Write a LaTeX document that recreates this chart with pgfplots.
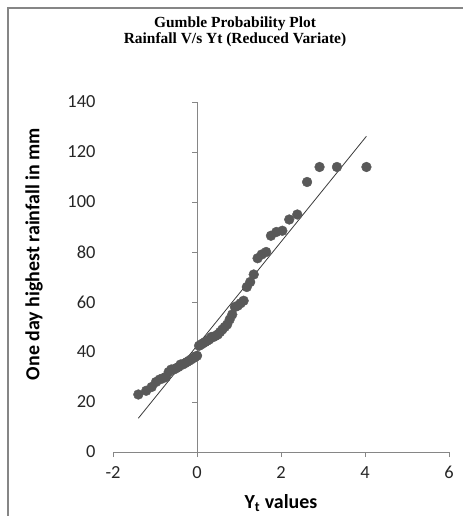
\documentclass[border=0pt]{standalone}
\usepackage{fontspec}
\setmainfont{Liberation Serif}
\newfontfamily\calibri{Carlito}
\usepackage{pgfplots}
\pgfplotsset{compat=1.18}
\definecolor{axisgray}{HTML}{868686}
\definecolor{dot}{HTML}{595959}
\definecolor{trend}{HTML}{3A3A3A}
\begin{document}
\begin{tikzpicture}
\path[use as bounding box] (0bp,0bp) rectangle (463bp,516bp);
\draw[axisgray, line width=1.2bp] (8bp,0bp) -- (8bp,508bp) -- (463bp,508bp);
\node[font=\fontsize{15.5}{16.5}\selectfont\bfseries, align=center] at (235bp,484bp)
  {Gumble Probability Plot\\Rainfall V/s Yt (Reduced Variate)};
\node[font=\calibri\fontsize{20}{22}\selectfont\bfseries] at (281bp,13bp) {Y\textsubscript{t} values};
\node[font=\calibri\fontsize{20}{22}\selectfont\bfseries, rotate=90] at (34bp,262bp) {One day highest rainfall in mm};
\begin{axis}[at={(113bp,64bp)}, anchor=south west, scale only axis,
  width=336bp, height=350bp,
  xmin=-2, xmax=6, ymin=0, ymax=140,
  xtick={-2,0,...,6}, ytick={0,20,...,140},
  axis x line*=bottom, axis y line*=left,
  y axis line style={draw=none}, ytick style={draw=none},
  x axis line style={axisgray, line width=0.8bp},
  xtick style={axisgray, line width=0.8bp},
  tick align=outside, major tick length=5bp,
  ticklabel style={font=\calibri\fontsize{18.5}{20}\selectfont, text=black!85},
  /pgf/number format/assume math mode=true,
  yticklabel style={xshift=-9bp}, xticklabel style={yshift=-6bp},
  clip=false]
\draw[axisgray, line width=0.8bp] (axis cs:0,0) -- (axis cs:0,140);
\pgfplotsinvokeforeach{20,40,...,140}{\draw[axisgray, line width=0.8bp] (axis cs:0,#1) -- ([xshift=-5bp]axis cs:0,#1);}
% Gumbel reduced variate Yt vs observed one day max rainfall
\addplot[only marks, mark=*, mark size=4.9bp, dot] coordinates {
(4.034,114) (3.332,114) (2.918,114) (2.621,108) (2.388,95) (2.196,93)
(2.032,88.5) (1.889,88) (1.761,86.5) (1.646,80) (1.540,79) (1.442,77.5)
(1.351,71) (1.266,68) (1.186,66) (1.110,60.5) (1.038,59.5) (0.969,58.5)
(0.903,58) (0.839,55) (0.778,53) (0.718,51) (0.660,50) (0.604,49)
(0.549,48) (0.496,47) (0.443,46.5) (0.392,46) (0.341,46) (0.291,45)
(0.242,44.5) (0.193,44) (0.145,43.5) (0.097,43) (0.049,42.5) (0.0015,38.5)
(-0.046,38) (-0.094,37.5) (-0.142,37) (-0.190,36.5) (-0.239,36) (-0.289,35.5)
(-0.339,35) (-0.391,35) (-0.443,34) (-0.498,33.5) (-0.554,33) (-0.613,33)
(-0.675,32) (-0.741,30) (-0.812,29.5) (-0.889,29) (-0.977,28) (-1.080,26)
(-1.209,24.5) (-1.397,23)};
\addplot[trend, line width=0.8bp] coordinates {(-1.397,13.5) (4.034,126.3)};
\end{axis}
\end{tikzpicture}
\end{document}
